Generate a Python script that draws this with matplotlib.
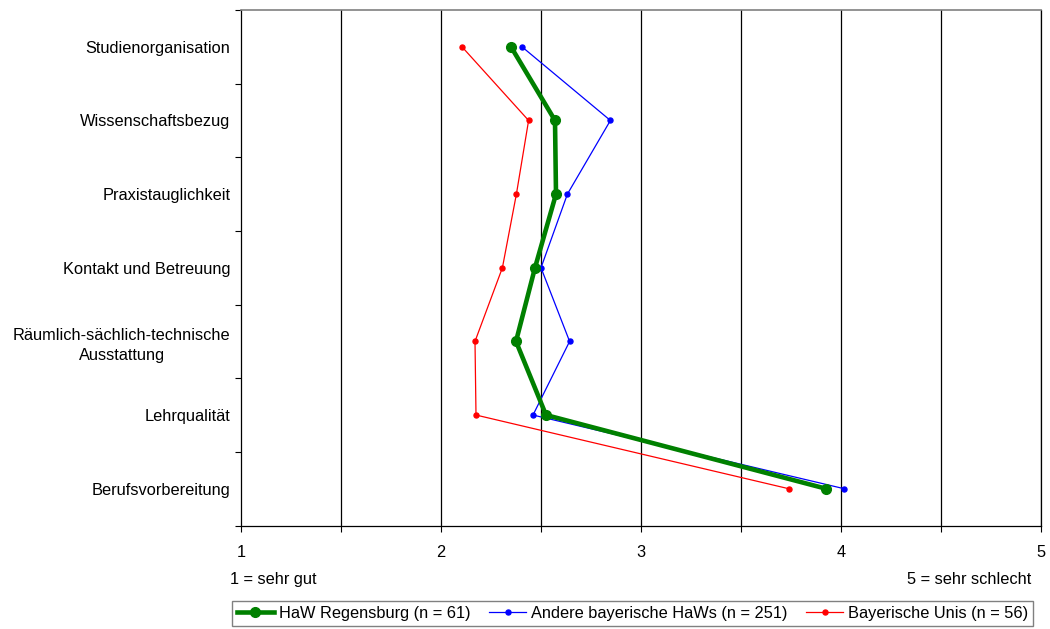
import matplotlib
matplotlib.use("Agg")
import matplotlib.pyplot as plt
from matplotlib.ticker import FixedLocator

plt.rcParams['font.family'] = ['Liberation Sans', 'DejaVu Sans']

categories = ["Studienorganisation", "Wissenschaftsbezug", "Praxistauglichkeit",
              "Kontakt und Betreuung", "Räumlich-sächlich-technische\nAusstattung",
              "Lehrqualität", "Berufsvorbereitung"]
haw_regensburg = [2.35, 2.57, 2.575, 2.47, 2.375, 2.525, 3.925]
andere_haws = [2.405, 2.847, 2.632, 2.50, 2.643, 2.46, 4.015]
bay_unis = [2.105, 2.438, 2.377, 2.307, 2.17, 2.175, 3.738]
series_labels = ["HaW Regensburg (n = 61)", "Andere bayerische HaWs (n = 251)",
                 "Bayerische Unis (n = 56)"]
x_ticks = [1, 2, 3, 4, 5]

FS = 11.8
W, H = 1050, 629
fig = plt.figure(figsize=(W / 100, H / 100), dpi=100)
ax = fig.add_axes([241 / W, 1 - 525.5 / H, 800 / W, 515.5 / H])

ypos = list(range(len(categories)))
l1, = ax.plot(haw_regensburg, ypos, color='#008000', lw=3.3, marker='o', ms=7, zorder=5)
l2, = ax.plot(andere_haws, ypos, color='#0000FF', lw=0.9, marker='o', ms=3.6, zorder=4)
l3, = ax.plot(bay_unis, ypos, color='#FF0000', lw=0.9, marker='o', ms=3.6, zorder=3)

ax.set_xlim(1, 5)
ax.set_ylim(len(categories) - 0.5, -0.5)
ax.set_yticks(ypos)
ax.set_yticklabels(categories, ha='right', multialignment='center', fontsize=FS,
                   linespacing=1.45)
ax.yaxis.set_minor_locator(FixedLocator([i - 0.5 for i in range(len(categories) + 1)]))
ax.tick_params(axis='y', which='major', length=0, pad=7.5)
ax.tick_params(axis='y', which='minor', length=4.5, width=0.8, direction='out', color='black')

ax.set_xticks(x_ticks)
ax.set_xticklabels([str(v) for v in x_ticks], fontsize=FS)
ax.xaxis.set_minor_locator(FixedLocator([1.5, 2.5, 3.5, 4.5]))
ax.tick_params(axis='x', which='both', length=4.5, width=0.8, direction='out', color='black', pad=9.5)

for v in [1.5, 2, 2.5, 3, 3.5, 4, 4.5, 5]:
    ax.axvline(v, color='black', lw=0.9, zorder=1)

for s in ['left', 'bottom', 'right']:
    ax.spines[s].set_color('black')
    ax.spines[s].set_linewidth(0.9)
ax.spines['top'].set_color('#808080')
ax.spines['top'].set_linewidth(1.2)

fig.text(230 / W, 1 - 579.5 / H, "1 = sehr gut", ha='left', va='center', fontsize=FS)
fig.text(1031 / W, 1 - 579.5 / H, "5 = sehr schlecht", ha='right', va='center', fontsize=FS)

leg = fig.legend([l1, l2, l3], series_labels, loc='center', ncol=3,
                 bbox_to_anchor=(632.5 / W, 1 - 613.5 / H), fontsize=FS,
                 frameon=True, fancybox=False, handlelength=2.3, handletextpad=0.3,
                 columnspacing=1.1, borderpad=0.3, borderaxespad=0, edgecolor='#606060')
leg.get_frame().set_linewidth(1.0)

fig.savefig("out.png", dpi=100, facecolor='white')
